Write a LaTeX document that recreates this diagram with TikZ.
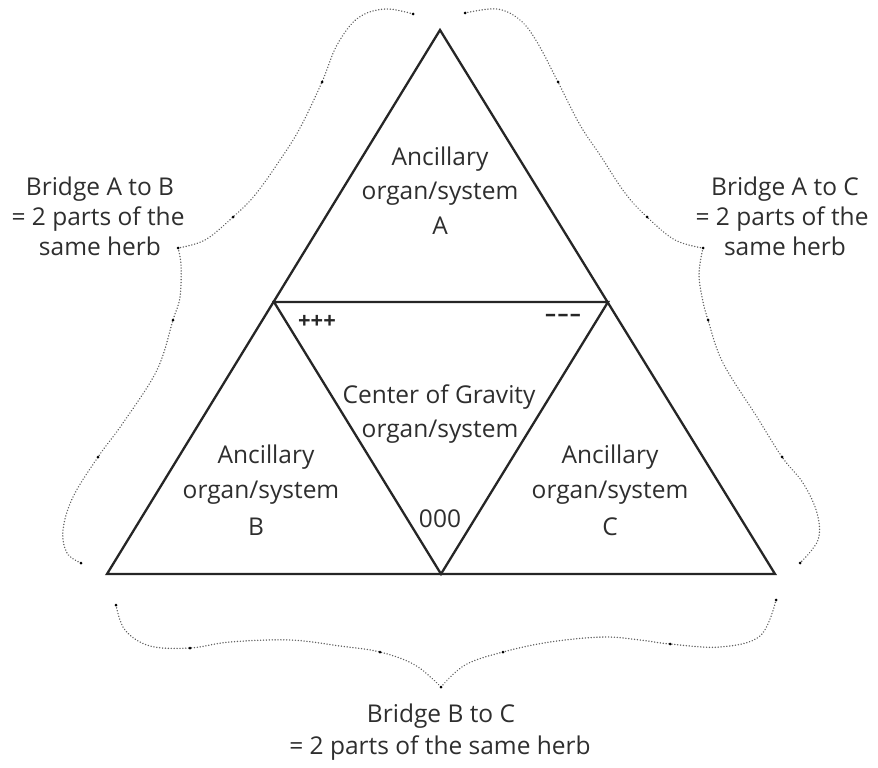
\documentclass[tikz,border=0pt]{standalone}
\usepackage{fontspec}
\setmainfont{Open Sans}
\begin{document}
\begin{tikzpicture}[x=1pt,y=-1pt,
  tri/.style={line width=2.3pt,draw=black!85,line join=miter},
  ln/.style={text=black!82,anchor=base,inner sep=0pt,font=\fontsize{24.5}{28}\selectfont},
  signs/.style={text=black!85,inner sep=0pt,font=\fontsize{22}{24}\selectfont\bfseries},
  brace/.style={draw=black!62,line width=1.5pt,dash pattern=on 0.1pt off 2.8pt,line cap=round},
  knot/.style={fill=black,draw=none}]
\useasboundingbox (0,0) rectangle (878,768);
% triangle vertices
\coordinate (T) at (440,30);
\coordinate (L) at (107,574);
\coordinate (R) at (775,574);
\coordinate (ML) at (274,302);
\coordinate (MR) at (608,302);
\coordinate (MB) at (441,574);
\draw[tri] (T) -- (R) -- (L) -- cycle;
\draw[tri] (ML) -- (MR) -- (MB) -- cycle;
% labels: top triangle A
\node[ln] (a1) at (440,165) {Ancillary};
\node[ln] (a2) at (440,199) {organ/system};
\node[ln] (a3) at (440,234) {A};
% B
\node[ln] (b1) at (266,463) {Ancillary};
\node[ln] (b2) at (261,498) {organ/system};
\node[ln] (b3) at (256,535) {B};
% C
\node[ln] (c1) at (610,463) {Ancillary};
\node[ln] (c2) at (610,498) {organ/system};
\node[ln] (c3) at (610,535) {C};
% center
\node[ln] (g1) at (439,403) {Center of Gravity};
\node[ln] (g2) at (440,437) {organ/system};
\node[ln] (z) at (440,527) {000};
\node[signs] (p) at (317,322) {+++};
\node[signs] (m) at (563,318) {\textendash\kern1.5pt\textendash\kern1.5pt\textendash};
% bridges
\node[ln] (ab1) at (100,195) {Bridge A to B};
\node[ln] (ab2) at (98,225) {= 2 parts of the};
\node[ln] (ab3) at (100,255) {same herb};
\node[ln] (ac1) at (785,195) {Bridge A to C};
\node[ln] (ac2) at (782,225) {= 2 parts of the};
\node[ln] (ac3) at (785,255) {same herb};
\node[ln] (bc1) at (441,722) {Bridge B to C};
\node[ln] (bc2) at (440,754) {= 2 parts of the same herb};
% braces
\draw[brace] plot[smooth,tension=0.6] coordinates {(413,14) (385,9) (358,18) (337,45) (322,82) (300,128) (280,160) (255,195) (233,217) (205,240) (178,248)};
\draw[brace] plot[smooth,tension=0.6] coordinates {(178,248) (181,265) (180,297) (173,320) (157,370) (123,423) (98,457) (73,497) (63,530) (67,553) (81,563)};
\draw[brace] plot[smooth,tension=0.6] coordinates {(465,13) (497,9) (520,20) (537,42) (558,82) (580,125) (600,155) (625,193) (647,217) (675,240) (703,248)};
\draw[brace] plot[smooth,tension=0.6] coordinates {(703,248) (699,273) (702,297) (708,320) (723,363) (757,417) (782,457) (803,483) (817,513) (818,540) (800,563)};
\draw[brace] plot[smooth,tension=0.6] coordinates {(116,605) (125,630) (150,646) (190,648) (230,642) (290,640) (340,646) (380,652) (415,665) (441,687)};
\draw[brace] plot[smooth,tension=0.6] coordinates {(441,687) (465,665) (503,652) (550,642) (603,637) (640,640) (670,644) (720,647) (760,636) (776,600)};
% anchor dots
\foreach \p in {(413,14),(322,82),(233,217),(178,248),(173,320),(98,457),(81,563),
  (465,13),(558,82),(647,217),(703,248),(708,320),(782,457),(800,563),
  (116,605),(190,648),(380,652),(441,687),(503,652),(670,644),(776,600)}
  \fill[knot] \p circle (1.5);
\end{tikzpicture}
\end{document}
